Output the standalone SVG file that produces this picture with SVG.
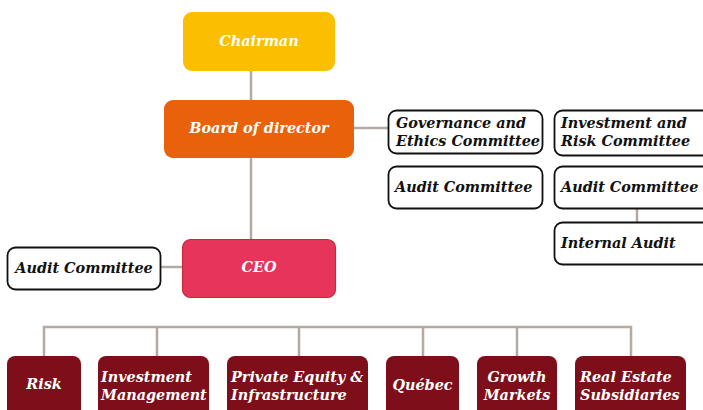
<svg xmlns="http://www.w3.org/2000/svg" width="703" height="410" viewBox="0 0 703 410">
<style>
text{font-family:"DejaVu Serif","Liberation Serif",serif;font-weight:bold;font-style:italic;font-size:14.4px}
.w{fill:#fff}
.k{fill:#111}
.box{fill:#fff;stroke:#111;stroke-width:1.8}
.dark{fill:#7E0E19}
.c{stroke:#B3ABA3;stroke-width:2.5;fill:none}
</style>
<g id="connectors">
<path class="c" d="M251 71V100M251 158V239M354 128H388M637 209V222M161 267H182"/>
<path class="c" d="M44 356V327H631V356M157 327V356M299 327V356M423 327V356M517 327V356"/>
</g>
<g id="chairman"><rect x="183" y="12" width="152" height="59" rx="9" fill="#FBBE00"/><text class="w" x="259" y="46" text-anchor="middle">Chairman</text></g>
<g id="board"><rect x="164" y="100" width="190" height="58" rx="9" fill="#E9610B"/><text class="w" x="259" y="133" text-anchor="middle">Board of director</text></g>
<g id="ceo"><rect x="182.5" y="239.5" width="153" height="58" rx="8" fill="#E6345B" stroke="#C62B34" stroke-width="1.2"/><text class="w" x="259" y="272" text-anchor="middle">CEO</text></g>
<g id="gov"><rect class="box" x="388.5" y="110.5" width="154" height="43" rx="8"/><text class="k" x="396" y="128">Governance and</text><text class="k" x="396" y="146">Ethics Committee</text></g>
<g id="invrisk"><rect class="box" x="554.5" y="110.5" width="160" height="45" rx="8"/><text class="k" x="561" y="128">Investment and</text><text class="k" x="561" y="146">Risk Committee</text></g>
<g id="audit1"><rect class="box" x="388.5" y="166.5" width="154" height="42" rx="8"/><text class="k" x="395" y="192">Audit Committee</text></g>
<g id="audit2"><rect class="box" x="554.5" y="166.5" width="160" height="42" rx="8"/><text class="k" x="561" y="192">Audit Committee</text></g>
<g id="internal"><rect class="box" x="554.5" y="222.5" width="160" height="42" rx="8"/><text class="k" x="561" y="248">Internal Audit</text></g>
<g id="audit3"><rect class="box" x="7.5" y="247.5" width="153" height="42" rx="8"/><text class="k" x="84" y="273" text-anchor="middle">Audit Committee</text></g>
<g id="risk"><rect class="dark" x="7" y="356" width="74" height="64" rx="8"/><text class="w" x="44" y="389" text-anchor="middle">Risk</text></g>
<g id="invmgmt"><rect class="dark" x="98" y="356" width="111" height="64" rx="8"/><text class="w" x="101" y="382">Investment</text><text class="w" x="101" y="400">Management</text></g>
<g id="pe"><rect class="dark" x="227" y="356" width="141" height="64" rx="8"/><text class="w" x="231" y="382">Private Equity &amp;</text><text class="w" x="231" y="400">Infrastructure</text></g>
<g id="quebec"><rect class="dark" x="386" y="356" width="73" height="64" rx="8"/><text class="w" x="422.5" y="390" text-anchor="middle">Québec</text></g>
<g id="growth"><rect class="dark" x="477" y="356" width="80" height="64" rx="8"/><text class="w" x="517" y="382" text-anchor="middle">Growth</text><text class="w" x="517" y="400" text-anchor="middle">Markets</text></g>
<g id="realestate"><rect class="dark" x="575" y="356" width="111" height="64" rx="8"/><text class="w" x="580" y="382">Real Estate</text><text class="w" x="580" y="400">Subsidiaries</text></g>
</svg>
